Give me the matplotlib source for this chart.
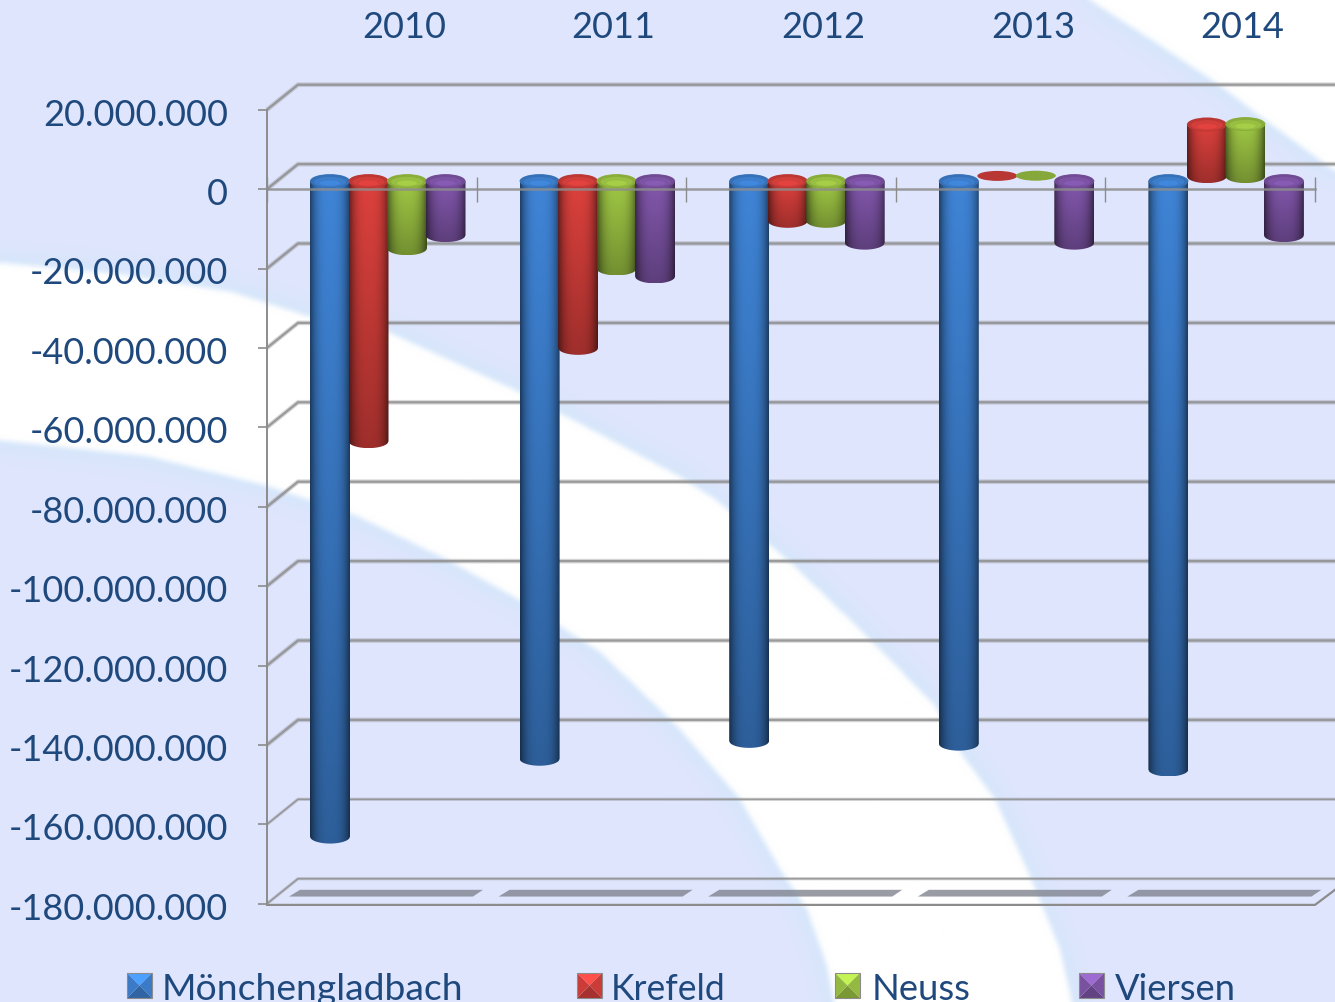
import numpy as np
import matplotlib
matplotlib.use('Agg')
import matplotlib.pyplot as plt
from matplotlib.patches import Ellipse, Polygon, PathPatch, Rectangle
from matplotlib.path import Path
from matplotlib.ticker import FuncFormatter
from matplotlib.transforms import ScaledTranslation

## data

years = ['2010', '2011', '2012', '2013', '2014']
series_names = ['Mönchengladbach', 'Krefeld', 'Neuss', 'Viersen']
moenchengladbach = [-165.1e6, -145.5e6, -141.0e6, -141.7e6, -148.2e6]
krefeld = [-65.5e6, -42.0e6, -10.0e6, 0.05e6, 13.0e6]
neuss = [-16.9e6, -22.0e6, -10.0e6, 0.1e6, 13.1e6]
viersen = [-13.6e6, -24.0e6, -15.5e6, -15.5e6, -13.6e6]
y_ticks = [20e6, 0, -20e6, -40e6, -60e6, -80e6, -100e6, -120e6, -140e6, -160e6, -180e6]

all_series = [moenchengladbach, krefeld, neuss, viersen]
colors = ['#3d80d0', '#d63f3b', '#9cc343', '#7f55a8']

## layout (pixels of the reference)

W, H = 1335, 1003
text_color = '#1f497d'
grid_color = '#8c8c8c'
plt.rcParams['font.family'] = ['Lato', 'DejaVu Sans']

fig = plt.figure(figsize=(W / 100, H / 100), dpi=100)

# background swooshes and legend live in a pixel axes
bg = fig.add_axes([0, 0, 1, 1], zorder=0)
bg.axis('off')

upper_edge = [(-60, 258), (120, 275), (232, 293), (308, 317), (388, 333), (513, 390), (600, 435),
              (679, 477), (715, 500), (790, 563), (870, 640), (935, 707), (963, 757), (995, 800),
              (1030, 877), (1060, 950), (1085, 1060)]
lower_edge = [(-60, 435), (147, 457), (268, 487), (357, 517), (446, 560), (518, 600), (600, 653),
              (677, 727), (740, 800), (780, 870), (807, 910), (827, 967), (845, 1060)]
corner_edge = [(995, -60), (1155, 43), (1215, 83), (1268, 123), (1400, 220), (1400, -60)]


def blur(a, r):
    # three box filters in each direction, edges padded so the border stays clean
    pad = 3 * r + 1
    a = np.pad(a, pad, mode='edge')
    for axis in (0, 1):
        for _ in range(3):
            c = np.cumsum(np.insert(a, 0, 0, axis=axis), axis=axis)
            n = a.shape[axis]
            lo = np.clip(np.arange(n) - r, 0, n)
            hi = np.clip(np.arange(n) + r + 1, 0, n)
            width = (hi - lo).reshape((-1, 1) if axis == 0 else (1, -1))
            a = (np.take(c, hi, axis=axis) - np.take(c, lo, axis=axis)) / width
    return a[pad:-pad, pad:-pad]


gx, gy = np.meshgrid(np.arange(W) + 0.5, np.arange(H) + 0.5)
grid_pts = np.column_stack([gx.ravel(), gy.ravel()])
band = Path(upper_edge + lower_edge[::-1] + [upper_edge[0]]).contains_points(grid_pts).reshape(H, W)
corner = Path(corner_edge + [corner_edge[0]]).contains_points(grid_pts).reshape(H, W)
mask = (band | corner).astype(float)
soft = blur(mask, 2)
halo = np.clip(blur(mask, 14) * 2.2, 0, 1)

back = np.array(matplotlib.colors.to_rgb('#dfe5fd'))
tint = np.array(matplotlib.colors.to_rgb('#d6e6fb'))
backdrop = back + (tint - back) * halo[:, :, None]
backdrop = backdrop + (1 - backdrop) * soft[:, :, None]
bg.imshow(backdrop, extent=(0, W, H, 0), aspect='auto', interpolation='bilinear')
bg.set_xlim(0, W)
bg.set_ylim(H, 0)

# chart axes, front plane of the 3d box
x_left, x_right = 267, 1315
y_top, y_bottom = 110.7, 904.7
ax = fig.add_axes([x_left / W, 1 - y_bottom / H, (x_right - x_left) / W, (y_bottom - y_top) / H], zorder=1)
ax.patch.set_alpha(0)

px_x = 5 / (x_right - x_left)
px_y = 200e6 / (y_bottom - y_top)

back_dx = 31 * px_x
back_dy = 25 * px_y
n_cat = len(years)
x_end = (W + 2 - x_left) * px_x

# back wall grid and side wall diagonals
for i, v in enumerate(y_ticks):
    lw = 1.7 if v > -150e6 else 1.2
    for width, alpha in [(lw * 2.0, 0.32), (lw, 0.8)]:
        ax.plot([0, back_dx, x_end], [v, v + back_dy, v + back_dy], color=grid_color, lw=width, alpha=alpha,
                clip_on=False, solid_capstyle='butt', zorder=2)

# floor shadows
for i in range(n_cat):
    top = -176.5e6
    low = -178.2e6
    ax.fill([i + 33 * px_x, i + 216 * px_x, i + 206 * px_x, i + 22 * px_x], [top, top, low, low],
            color='#80848f', alpha=0.8, lw=0, clip_on=False, zorder=2.5)

# front floor edge
ax.plot([0, 5, 5 + 20 * px_x], [-180.3e6, -180.3e6, -176.5e6], color=grid_color, lw=1.6, clip_on=False, zorder=2.6)


def cylinder(x0, width, value, color, z):
    rgb = np.array(matplotlib.colors.to_rgb(color))
    flat = abs(value) < 1e6
    ry = (5 if flat else 7) * px_y
    base = 8 * px_y if value < 0 else 13 * px_y
    y0 = base
    y1 = base + value
    low, high = min(y0, y1), max(y0, y1)
    cx = x0 + width / 2

    if flat:
        # bar of almost no height, only a dull disc is left
        ax.add_patch(Ellipse((cx, high), width, 2 * ry, fc=rgb * 0.86, ec='none', zorder=z, clip_on=False))
        return

    t = np.linspace(-1, 1, 60)
    arc_x = x0 + width * (t + 1) / 2
    arc_y = low - ry * np.sqrt(1 - t ** 2)
    verts = [(x0, high)] + list(zip(arc_x, arc_y)) + [(x0 + width, high), (x0, high)]
    clip = PathPatch(Path(verts), transform=ax.transData, fc='none', ec='none')
    ax.add_patch(clip)

    # horizontal round shading, getting darker downwards
    across = 1.0 - 0.5 * np.abs(t) ** 3.0 + 0.03 * (1 - t ** 2)
    down = np.linspace(1.0, 0.72, 60)[:, None]
    img = np.clip(rgb[None, None, :] * (across[None, :] * down)[:, :, None], 0, 1)
    im = ax.imshow(img, extent=(x0, x0 + width, low - ry, high), aspect='auto', zorder=z,
                   interpolation='bilinear')
    im.set_clip_path(clip)

    ax.add_patch(Ellipse((cx, high), width, 2 * ry, fc=rgb * 0.88, ec='none', zorder=z + 0.01, clip_on=False))
    ax.add_patch(Ellipse((cx, high - 0.8 * px_y), width * 0.8, 2 * ry * 0.72, fc=rgb * 0.98, ec='none',
                         zorder=z + 0.02, clip_on=False))
    ax.add_patch(Ellipse((cx, high - 2 * px_y), width * 0.5, 2 * ry * 0.36, fc=np.clip(rgb * 1.1, 0, 1),
                         ec='none', alpha=0.7, zorder=z + 0.03, clip_on=False))


bar_start = 43 * px_x
bar_step = 38.5 * px_x
bar_width = 40 * px_x
for i in range(n_cat):
    for j, vals in enumerate(all_series):
        cylinder(i + bar_start + j * bar_step, bar_width, vals[i], colors[j], 5 + 0.1 * i + 0.02 * j)

# front zero line with its tick marks, it runs over the bars
ax.plot([0, 5], [0, 0], color=grid_color, lw=1.8, alpha=0.85, clip_on=False, zorder=8)
ax.vlines(np.arange(n_cat + 1), -3.3e6, 3e6, color=grid_color, lw=1.0, clip_on=False, zorder=8)

ax.set_xlim(0, 5)
ax.set_ylim(-180e6, 20e6)
ax.set_yticks(y_ticks)
ax.yaxis.set_major_formatter(FuncFormatter(lambda v, pos: f'{v:,.0f}'.replace(',', '.')))
ax.tick_params(axis='y', length=6.5, width=1.2, color=grid_color, labelsize=26, labelcolor=text_color, pad=21.7)
ax.set_xticks(np.arange(n_cat) + 137 * px_x)
ax.set_xticklabels(years)
ax.xaxis.tick_top()
ax.tick_params(axis='x', length=0, labelsize=26, labelcolor=text_color, pad=48)
for lab in ax.get_yticklabels():
    lab.set_transform(lab.get_transform() + ScaledTranslation(0, -1.5 / 100, fig.dpi_scale_trans))
for name, sp in ax.spines.items():
    sp.set_visible(name == 'left')
ax.spines['left'].set_color(grid_color)
ax.spines['left'].set_linewidth(1.4)

# legend with the little pyramid keys
key_x = [127, 577, 835, 1079]
text_x = [162, 611, 872, 1115]
text_size = [26.8, 25.6, 26.2, 26.2]
for name, col, kx, tx, fs in zip(series_names, colors, key_x, text_x, text_size):
    rgb = np.array(matplotlib.colors.to_rgb(col))
    s = 25
    y0 = 974
    cx, cy = kx + s / 2, y0 + s / 2
    corners = [(kx, y0), (kx + s, y0), (kx + s, y0 + s), (kx, y0 + s)]
    shades = [1.25, 0.95, 0.78, 0.95]
    for n in range(4):
        bg.add_patch(Polygon([corners[n], corners[(n + 1) % 4], (cx, cy)], closed=True,
                             fc=np.clip(rgb * shades[n], 0, 1), ec='none'))
    bg.add_patch(Rectangle((kx, y0), s, s, fc='none', ec='#8c8c8c', lw=0.8))
    bg.text(tx, 1000, name, fontsize=fs, color=text_color, va='baseline', ha='left')

fig.savefig('out.png', dpi=100)
